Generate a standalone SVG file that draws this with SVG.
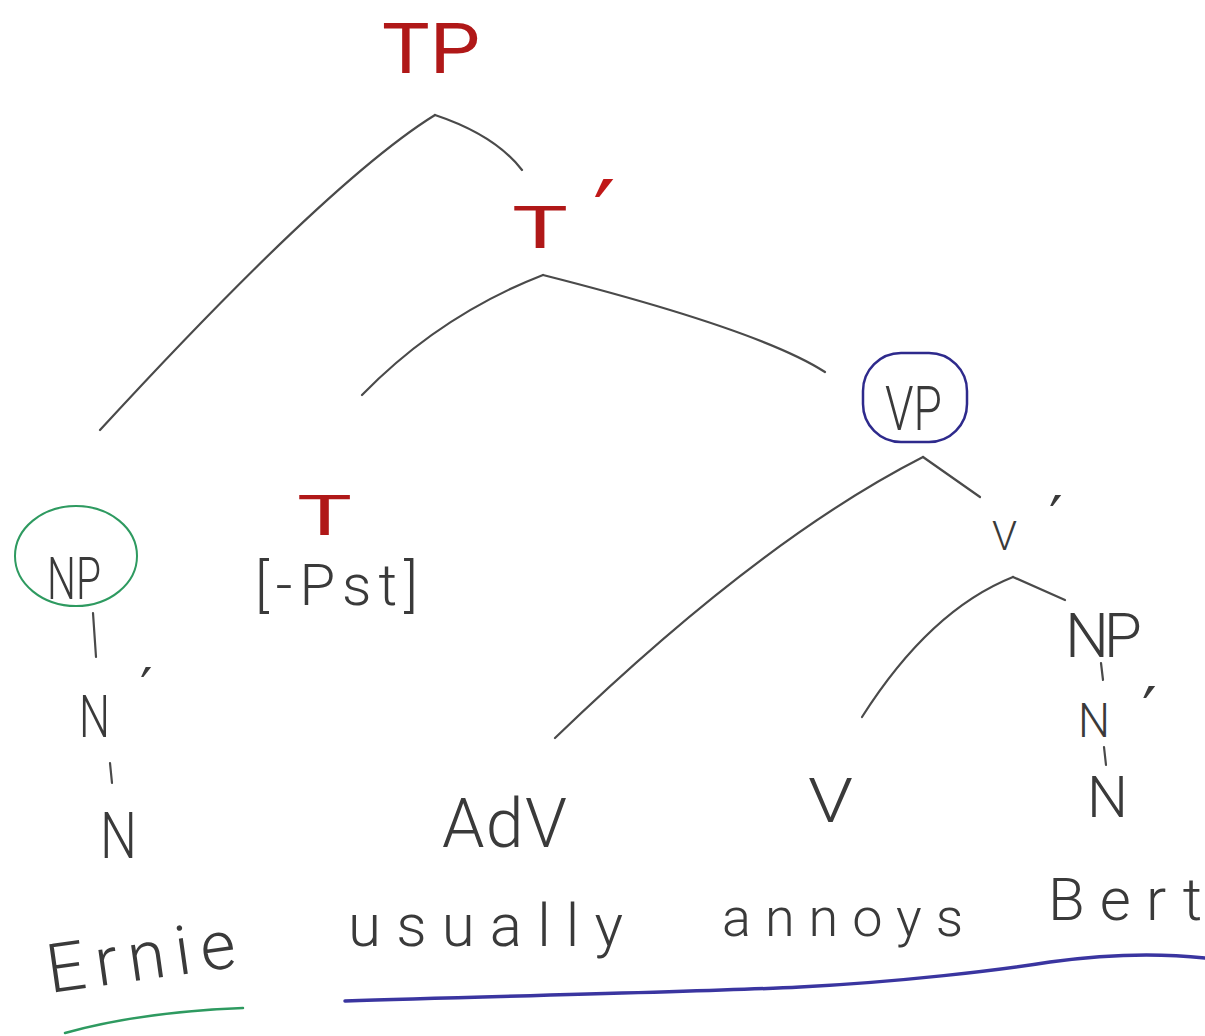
<svg xmlns="http://www.w3.org/2000/svg" width="1205" height="1036" viewBox="0 0 1205 1036">
<style>
.b{fill:none;stroke:#4a4a4a;stroke-width:2.2;stroke-linecap:round}
.t{font-family:Roboto,"Liberation Sans",sans-serif;font-weight:300;fill:#3a3a3a}
.r{font-family:Roboto,"Liberation Sans",sans-serif;font-weight:400;fill:#b01818}
.p{font-family:"DejaVu Sans",sans-serif;fill:#3a3a3a}
</style>
<rect width="1205" height="1036" fill="#ffffff"/>
<g id="connectors">
<path class="b" d="M435,115 Q330,180 100,430"/>
<path class="b" d="M435,115 Q495,135 522,170"/>
<path class="b" d="M543,275 Q440,315 362,395"/>
<path class="b" d="M543,275 Q760,330 825,372"/>
<path class="b" d="M923,457 Q760,540 555,738"/>
<path class="b" d="M923,457 L980,497"/>
<path class="b" d="M1013,577 Q930,610 862,717"/>
<path class="b" d="M1013,577 L1065,600"/>
<path class="b" d="M93,613 L96,657"/>
<path class="b" d="M110,763 L112,783"/>
<path class="b" d="M1101,663 L1103,680"/>
<path class="b" d="M1104,747 L1106,765"/>
</g>
<g id="TP"><text class="r" x="382" y="73" font-size="70" textLength="98" lengthAdjust="spacingAndGlyphs">TP</text></g>
<g id="Tbar">
<text class="r" x="512" y="248" font-size="60" textLength="56" lengthAdjust="spacingAndGlyphs">T</text>
<text class="p" x="593" y="252" font-size="100" style="fill:#c01818">′</text>
</g>
<g id="VP">
<rect x="863" y="353" width="104" height="89" rx="38" fill="none" stroke="#2e2a8c" stroke-width="2.5"/>
<text class="t" x="885" y="430" font-size="62" textLength="57" lengthAdjust="spacingAndGlyphs">VP</text>
</g>
<g id="NP-subj">
<ellipse cx="76" cy="556" rx="61" ry="50" fill="none" stroke="#2e9a60" stroke-width="2"/>
<text class="t" x="47" y="599" font-size="60" textLength="54" lengthAdjust="spacingAndGlyphs">NP</text>
</g>
<g id="Nbar-subj">
<text class="t" x="79" y="737" font-size="60" textLength="31" lengthAdjust="spacingAndGlyphs">N</text>
<text class="p" x="140" y="707" font-size="55">′</text>
</g>
<g id="N-subj"><text class="t" x="100" y="858" font-size="64" textLength="37" lengthAdjust="spacingAndGlyphs">N</text></g>
<g id="T"><text class="r" x="297" y="535" font-size="56" textLength="55" lengthAdjust="spacingAndGlyphs">T</text></g>
<g id="Pst"><text class="t" x="255" y="605" font-size="58" textLength="163">[-Pst]</text></g>
<g id="Vbar">
<text class="t" x="992" y="550" font-size="40" textLength="25" lengthAdjust="spacingAndGlyphs">V</text>
<text class="p" x="1049" y="539" font-size="60">′</text>
</g>
<g id="AdV"><text class="t" x="442" y="847" font-size="68" textLength="125">AdV</text></g>
<g id="V"><text class="t" x="808" y="822" font-size="62" textLength="45" lengthAdjust="spacingAndGlyphs">V</text></g>
<g id="NP-obj"><text class="t" x="1065" y="657" font-size="62" textLength="77">NP</text></g>
<g id="Nbar-obj">
<text class="t" x="1078" y="737" font-size="48" textLength="32" lengthAdjust="spacingAndGlyphs">N</text>
<text class="p" x="1142" y="734" font-size="65">′</text>
</g>
<g id="N-obj"><text class="t" x="1087" y="817" font-size="58" textLength="41" lengthAdjust="spacingAndGlyphs">N</text></g>
<g id="words">
<text class="t" x="50" y="993" font-size="68" textLength="190" transform="rotate(-8 50 993)">Ernie</text>
<text class="t" x="348" y="946" font-size="60" textLength="275">usually</text>
<text class="t" x="722" y="936" font-size="54" textLength="241">annoys</text>
<text class="t" x="1048" y="920" font-size="60" textLength="154">Bert</text>
</g>
<g id="underlines">
<path d="M65,1033 Q140,1012 243,1008" fill="none" stroke="#2e9a60" stroke-width="2.5" stroke-linecap="round"/>
<path d="M345,1001 C500,996 700,992 800,987 C900,982 1000,970 1050,962 C1100,955 1150,952 1205,958" fill="none" stroke="#3a35a0" stroke-width="3.5" stroke-linecap="round"/>
</g>
</svg>
